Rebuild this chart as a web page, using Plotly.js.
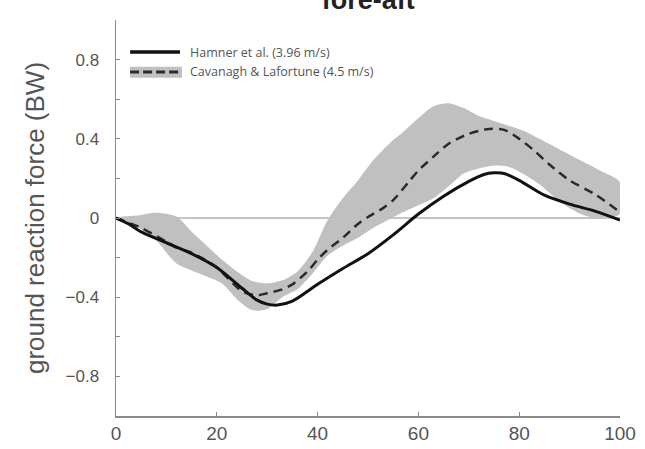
<!DOCTYPE html>
<html>
<head>
<meta charset="utf-8">
<script src="https://cdn.plot.ly/plotly-3.0.1.min.js"></script>
<style>html,body{margin:0;padding:0;background:#fff;}#chart{width:645px;height:449px;}</style>
</head>
<body>
<div id="chart"></div>
<script>
// Hamner et al. (3.96 m/s) - solid line
const hamnerX = [0,2.5,5,10,15,20,25,28,30,32,35,40,45,50,55,60,65,70,73,75,77,80,85,90,95,100];
const hamnerY = [0,-0.03,-0.07,-0.125,-0.18,-0.25,-0.355,-0.415,-0.435,-0.44,-0.42,-0.335,-0.255,-0.18,-0.085,0.02,0.11,0.185,0.22,0.228,0.225,0.19,0.115,0.07,0.035,-0.01];

// Cavanagh & Lafortune (4.5 m/s) - dashed mean
const cavX = [0,5,10,12,15,20,25,28,30,33,35,38,40,42,45,48,50,53,55,58,60,63,66,70,74,77,80,83,86,90,95,100];
const cavY = [0,-0.05,-0.12,-0.15,-0.175,-0.25,-0.37,-0.39,-0.38,-0.36,-0.335,-0.27,-0.21,-0.16,-0.1,-0.03,0.005,0.05,0.09,0.18,0.24,0.31,0.375,0.425,0.45,0.445,0.4,0.34,0.27,0.19,0.12,0.03];

// Cavanagh & Lafortune band (± SD)
const bandX     = [0,4,8,12,15,18,21,24,27,30,33,36,39,42,45,48,51,54,57,60,63,66,69,72,75,78,81,84,87,90,93,96,100];
const bandUpper = [0,0.012,0.027,0.007,-0.07,-0.14,-0.21,-0.27,-0.318,-0.33,-0.315,-0.27,-0.17,-0.01,0.1,0.19,0.29,0.37,0.435,0.505,0.565,0.58,0.555,0.515,0.49,0.465,0.44,0.40,0.36,0.32,0.28,0.24,0.18];
const bandLower = [0,-0.04,-0.115,-0.23,-0.265,-0.295,-0.33,-0.41,-0.465,-0.46,-0.40,-0.36,-0.28,-0.19,-0.14,-0.10,-0.05,-0.01,0.03,0.065,0.10,0.16,0.225,0.25,0.265,0.258,0.22,0.17,0.105,0.05,0.012,0.0,0.02];

// Axis ticks
const xTickVals = [0,20,40,60,80,100];
const xTickText = ['0','20','40','60','80','100'];
const yTickVals = [-1,-0.8,-0.6,-0.4,-0.2,0,0.2,0.4,0.6,0.8,1];
const yTickText = ['','\u22120.8','','\u22120.4','','0','','0.4','','0.8',''];

const seriesNames = ['Hamner et al. (3.96 m/s)', 'Cavanagh & Lafortune (4.5 m/s)'];
const titleText = 'fore-aft';
const yTitle = 'ground reaction force (BW)';

const bandPolyX = bandX.concat(bandX.slice().reverse());
const bandPolyY = bandUpper.concat(bandLower.slice().reverse());

const traces = [
  {x: bandPolyX, y: bandPolyY, type: 'scatter', mode: 'lines', fill: 'toself',
   fillcolor: '#c0c0c0', line: {width: 0, shape: 'spline', smoothing: 0.8}, showlegend: false, hoverinfo: 'skip'},
  {x: cavX, y: cavY, type: 'scatter', mode: 'lines', name: seriesNames[1],
   line: {color: '#2a2a2a', width: 2.5, dash: '9px,6px', shape: 'spline', smoothing: 0.8}, showlegend: false},
  {x: hamnerX, y: hamnerY, type: 'scatter', mode: 'lines', name: seriesNames[0],
   line: {color: '#111111', width: 3, shape: 'spline', smoothing: 0.8}, showlegend: false}
];

// manual legend (paper coords relative to plot area)
const L = {x0: 0.028, x1: 0.127, xt: 0.143, y1: 0.919, y2: 0.869};
const layout = {
  width: 645, height: 449,
  margin: {l: 116, r: 25, t: 20, b: 33},
  paper_bgcolor: '#ffffff', plot_bgcolor: '#ffffff',
  font: {family: 'Liberation Sans, Arial, sans-serif', color: '#555555'},
  title: {text: titleText, font: {family: 'Liberation Sans, Arial, sans-serif', size: 27, weight: 'bold', color: '#222222'},
          x: 0.5708, xanchor: 'center', y: 1, yref: 'container', yanchor: 'middle'},
  xaxis: {range: [0, 100], tickvals: xTickVals, ticktext: xTickText, ticks: 'inside', ticklen: 4,
          tickcolor: '#8a8a8a', showline: true, linecolor: '#8a8a8a', linewidth: 1.5, showgrid: false,
          zeroline: false, tickfont: {size: 19, color: '#555555'}, ticklabelstandoff: 0, fixedrange: true},
  yaxis: {range: [-1, 1], tickvals: yTickVals, ticktext: yTickText, ticks: 'inside', ticklen: 4,
          tickcolor: '#8a8a8a', showline: true, linecolor: '#8a8a8a', linewidth: 1.5, showgrid: false,
          zeroline: true, zerolinecolor: '#c4c4c4', zerolinewidth: 1.2,
          tickfont: {size: 17, color: '#555555'}, ticklabelstandoff: 12,
          title: {text: yTitle, font: {size: 26, color: '#555555'}, standoff: 13}, automargin: false, fixedrange: true},
  shapes: [
    {type: 'line', xref: 'paper', yref: 'paper', x0: L.x0, x1: L.x1, y0: L.y1, y1: L.y1, line: {color: '#111111', width: 3.5}},
    {type: 'rect', xref: 'paper', yref: 'paper', x0: L.x0, x1: L.x1 + 0.004, y0: 0.854, y1: 0.882, line: {width: 0}, fillcolor: '#c0c0c0'},
    {type: 'line', xref: 'paper', yref: 'paper', x0: L.x0, x1: L.x1, y0: L.y2, y1: L.y2, line: {color: '#2a2a2a', width: 3, dash: '9px,4px'}}
  ],
  annotations: [
    {xref: 'paper', yref: 'paper', x: L.xt, y: L.y1, xanchor: 'left', yanchor: 'middle', showarrow: false,
     text: seriesNames[0], font: {family: 'Open Sans, sans-serif', size: 12.5, color: '#555555'}},
    {xref: 'paper', yref: 'paper', x: L.xt, y: L.y2, xanchor: 'left', yanchor: 'middle', showarrow: false,
     text: seriesNames[1], font: {family: 'Open Sans, sans-serif', size: 12.5, color: '#555555'}}
  ]
};

Plotly.newPlot('chart', traces, layout, {staticPlot: true, displayModeBar: false});
</script>
</body>
</html>
